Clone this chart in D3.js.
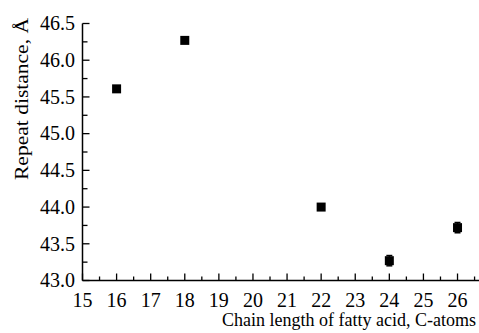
<!DOCTYPE html>
<html><head><meta charset="utf-8">
<script src="https://cdn.jsdelivr.net/npm/d3@7"></script>
<style>body{margin:0;background:#fff}svg{display:block}text{font-family:"Liberation Serif","DejaVu Serif",serif;fill:#000}</style>
</head><body><svg id="c" width="479" height="333"></svg>
<script>
const chainLength = [16, 18, 22, 24, 26];
const repeatDistance = [45.61, 46.27, 44.0, 43.27, 43.72];
const errorBar = [0, 0, 0, 0.07, 0.07];
const xTicks = [15,16,17,18,19,20,21,22,23,24,25,26];
const yTicks = [43.0,43.5,44.0,44.5,45.0,45.5,46.0,46.5];
const xLabel = "Chain length of fatty acid, C-atoms";
const yLabel = "Repeat distance, Å";

const svg = d3.select("#c");
const FF = "Liberation Serif, DejaVu Serif, serif";
const x = d3.scaleLinear().domain([15, 26.63]).range([82.5, 479]);
const y = d3.scaleLinear().domain([43, 46.5]).range([280.5, 23.5]);

const xMinor = d3.range(15.5, 26.6, 1);
const yMinor = d3.range(43.25, 46.5, 0.5);
const g = svg.append("g").attr("stroke", "#000").attr("stroke-width", 1.3);
g.selectAll(".xm").data(xMinor).join("line")
  .attr("x1", d => x(d)).attr("x2", d => x(d)).attr("y1", y(43)).attr("y2", y(43) - 4);
g.selectAll(".xM").data(xTicks).join("line")
  .attr("x1", d => x(d)).attr("x2", d => x(d)).attr("y1", y(43)).attr("y2", y(43) - 7);
g.selectAll(".ym").data(yMinor).join("line")
  .attr("x1", x(15)).attr("x2", x(15) + 5).attr("y1", d => y(d)).attr("y2", d => y(d));
g.selectAll(".yM").data(yTicks).join("line")
  .attr("x1", x(15)).attr("x2", x(15) + 7).attr("y1", d => y(d)).attr("y2", d => y(d));

svg.append("line").attr("x1", x(15)).attr("x2", x(15)).attr("y1", y(46.5)).attr("y2", y(43))
  .attr("stroke", "#000").attr("stroke-width", 1.5);
svg.append("line").attr("x1", x(15)).attr("x2", 479).attr("y1", y(43)).attr("y2", y(43))
  .attr("stroke", "#000").attr("stroke-width", 1.5);

svg.selectAll(".xl").data(xTicks).join("text")
  .attr("font-family", FF)
  .attr("x", d => x(d)).attr("y", 306.5).attr("text-anchor", "middle")
  .attr("font-size", 20).text(d => d);
svg.selectAll(".yl").data(yTicks).join("text")
  .attr("font-family", FF)
  .attr("x", 75).attr("y", d => y(d) + 6.8).attr("text-anchor", "end")
  .attr("font-size", 20).text(d => d.toFixed(1));

svg.append("text").attr("font-family", FF).attr("x", 222).attr("y", 326)
  .attr("font-size", 18).attr("textLength", 254).attr("lengthAdjust", "spacingAndGlyphs").text(xLabel);
svg.append("text").attr("font-family", FF).attr("transform", "translate(28,180) rotate(-90)")
  .attr("font-size", 19).attr("textLength", 162).attr("lengthAdjust", "spacingAndGlyphs").text(yLabel);

const data = chainLength.map((c, i) => ({c, v: repeatDistance[i], e: errorBar[i]}));
const eb = svg.append("g").attr("stroke", "#000").attr("stroke-width", 1.5);
data.filter(d => d.e > 0).forEach(d => {
  eb.append("line").attr("x1", x(d.c)).attr("x2", x(d.c)).attr("y1", y(d.v - d.e)).attr("y2", y(d.v + d.e));
  eb.append("line").attr("x1", x(d.c) - 3).attr("x2", x(d.c) + 3).attr("y1", y(d.v - d.e)).attr("y2", y(d.v - d.e));
  eb.append("line").attr("x1", x(d.c) - 3).attr("x2", x(d.c) + 3).attr("y1", y(d.v + d.e)).attr("y2", y(d.v + d.e));
});
const s = 9;
svg.selectAll(".pt").data(data).join("rect")
  .attr("x", d => x(d.c) - s / 2).attr("y", d => y(d.v) - s / 2)
  .attr("width", s).attr("height", s).attr("fill", "#000");
</script></body></html>
